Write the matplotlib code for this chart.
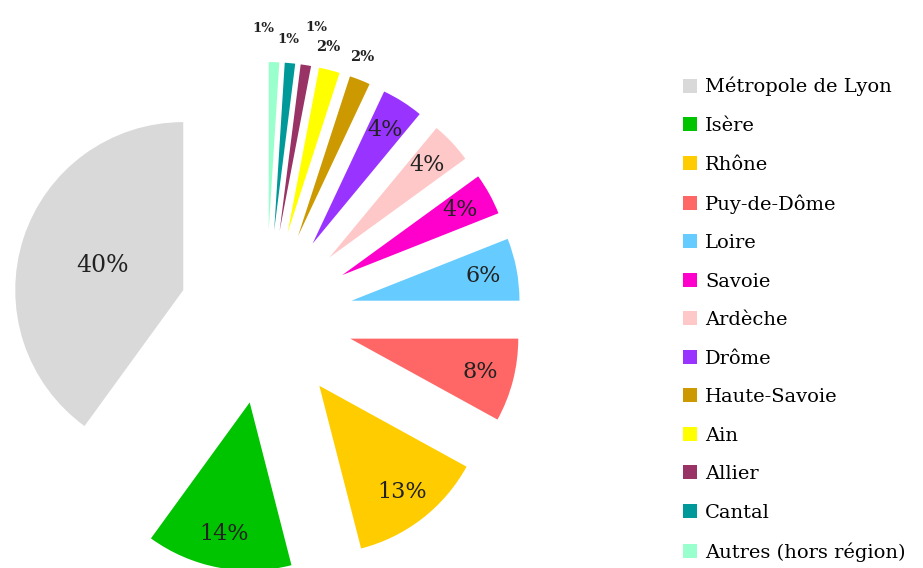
import numpy as np
import matplotlib
matplotlib.use("Agg")
import matplotlib.pyplot as plt

categories = ["Métropole de Lyon", "Isère", "Rhône", "Puy-de-Dôme", "Loire", "Savoie",
              "Ardèche", "Drôme", "Haute-Savoie", "Ain", "Allier", "Cantal",
              "Autres (hors région)"]
values = [40, 14, 13, 8, 6, 4, 4, 4, 2, 2, 1, 1, 1]
pct_labels = ["40%", "14%", "13%", "8%", "6%", "4%", "4%", "4%", "2%", "2%", "1%", "1%", "1%"]
colors = ["#d9d9d9", "#00c400", "#ffcc00", "#ff6666", "#66ccff", "#ff00cc",
          "#ffc8c8", "#9933ff", "#cc9900", "#ffff00", "#993366", "#009999", "#99ffcc"]

# label placement styles (radial factor, angle shift in degrees)
label_dist = [0.5, 0.8, 0.8, 0.8, 0.8, 0.8, 0.8, 0.8, 1.13, 1.13, 1.23, 1.14, 1.2]
label_dtheta = [1, 0, 0, 0, 0, 0, 0, 0, 1.9, 2.1, -1.2, 1.3, 3.4]
label_size = [17, 16, 16, 16, 16, 16, 16, 16, 10.5, 10.5, 9.5, 9.5, 9.5]
label_bold = [False] * 8 + [True] * 5

W, H = 923, 568
fig = plt.figure(figsize=(W / 100, H / 100), dpi=100)
ax = fig.add_axes([0, 0, 1, 1])

R = 168
EXPL = 87
wedges, _ = ax.pie(values, colors=colors, startangle=90, counterclock=True,
                   radius=R, center=(266, H - 317), explode=[EXPL] * len(values),
                   frame=False, wedgeprops=dict(linewidth=0))
ax.set_xlim(0, W)
ax.set_ylim(0, H)
ax.set_aspect("equal")
ax.axis("off")

for w, lab, d, dt, fs, b in zip(wedges, pct_labels, label_dist, label_dtheta, label_size, label_bold):
    th = np.deg2rad((w.theta1 + w.theta2) / 2 + dt)
    cx, cy = w.center
    ax.text(cx + d * R * np.cos(th), cy + d * R * np.sin(th), lab,
            ha="center", va="center", fontsize=fs, family="DejaVu Serif",
            fontweight="bold" if b else "normal", color="#222222")

fig.legend(handles=wedges, labels=categories, loc="upper left",
           bbox_to_anchor=(683 / W, 1 - 77 / H), frameon=False, borderpad=0,
           prop=dict(family="DejaVu Serif", size=14),
           handlelength=0.72, handleheight=0.72, handletextpad=0.41, labelspacing=1.055,
           borderaxespad=0)

fig.savefig("out.png", dpi=100)
